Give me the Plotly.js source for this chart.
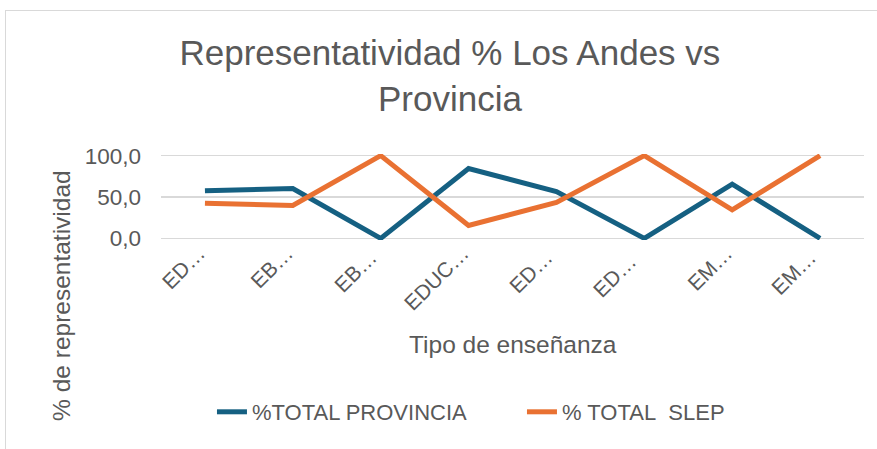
<!DOCTYPE html>
<html>
<head>
<meta charset="utf-8">
<script src="https://cdn.plot.ly/plotly-3.0.1.min.js"></script>
<style>
  html, body { margin: 0; padding: 0; background: #fff; }
  #wrap { position: relative; width: 877px; height: 449px; overflow: hidden; }
  #chart { width: 877px; height: 449px; }
  #frame { position: absolute; left: 5px; top: 10px; width: 880px; height: 450px; border: 1px solid #d9d9d9; pointer-events: none; box-sizing: border-box; }
</style>
</head>
<body>
<div id="wrap">
  <div id="chart"></div>
  <div id="frame"></div>
</div>
<script>
const categories = ["ED\u2026", "EB\u2026", "EB\u2026 ", "EDUC\u2026", "ED\u2026 ", "ED\u2026  ", "EM\u2026", "EM\u2026 "];
const provinciaValues = [57.5, 60.2, 0, 84.4, 56.5, 0, 65.6, 0];
const slepValues = [42.5, 39.8, 100, 15.6, 43.5, 100, 34.4, 100];
const seriesNames = ["%TOTAL PROVINCIA", "% TOTAL\u00a0 SLEP"];
const yTicks = [0, 50, 100];

const FONT = "Liberation Sans, Arial, sans-serif";
const TXT = "#595959";

const traces = [
  { type: "scatter", mode: "lines", x: categories, y: provinciaValues, name: seriesNames[0],
    line: { color: "#156082", width: 5 } },
  { type: "scatter", mode: "lines", x: categories, y: slepValues, name: seriesNames[1],
    line: { color: "#E97132", width: 5 } }
];

const layout = {
  width: 877, height: 449,
  paper_bgcolor: "#ffffff", plot_bgcolor: "#ffffff",
  font: { family: FONT, color: TXT },
  margin: { l: 161, r: 13, t: 154, b: 209, pad: 0 },
  separators: ",.",
  title: {
    text: "Representatividad % Los Andes vs<br>Provincia",
    font: { size: 35, color: TXT, family: FONT },
    x: 0.513, xref: "container", xanchor: "center",
    y: 0.855, yref: "container", yanchor: "top"
  },
  showlegend: true,
  legend: {
    orientation: "h", x: 0.0725, xanchor: "left", y: -2, yanchor: "middle",
    entrywidth: 265, entrywidthmode: "pixels",
    font: { size: 22, color: TXT, family: FONT }, bgcolor: "rgba(0,0,0,0)"
  },
  xaxis: {
    type: "category", range: [-0.5, 7.5], tickangle: -45, tickfont: { size: 21, color: TXT },
    ticklabelshift: -6, ticklabelstandoff: -4,
    showgrid: false, zeroline: false, showline: false, ticks: "", automargin: false
  },
  yaxis: {
    range: [-2, 102], tickvals: yTicks, tickformat: ".1f",
    tickfont: { size: 22.5, color: TXT }, gridcolor: "#d9d9d9", gridwidth: 1.5,
    zeroline: false, showline: false, ticks: "", ticklabelstandoff: 19, automargin: false
  },
  annotations: [
    { text: "% de representatividad", textangle: -90, xref: "paper", yref: "paper",
      x: -0.1408, y: -0.65, xanchor: "center", yanchor: "middle", showarrow: false,
      font: { size: 24.5, color: TXT } },
    { text: "Tipo de enseñanza", xref: "paper", yref: "paper",
      x: 0.5, y: -1.214, xanchor: "center", yanchor: "middle", showarrow: false,
      font: { size: 24.5, color: TXT } }
  ]
};

Plotly.newPlot("chart", traces, layout, { staticPlot: true, displayModeBar: false });
</script>
</body>
</html>
